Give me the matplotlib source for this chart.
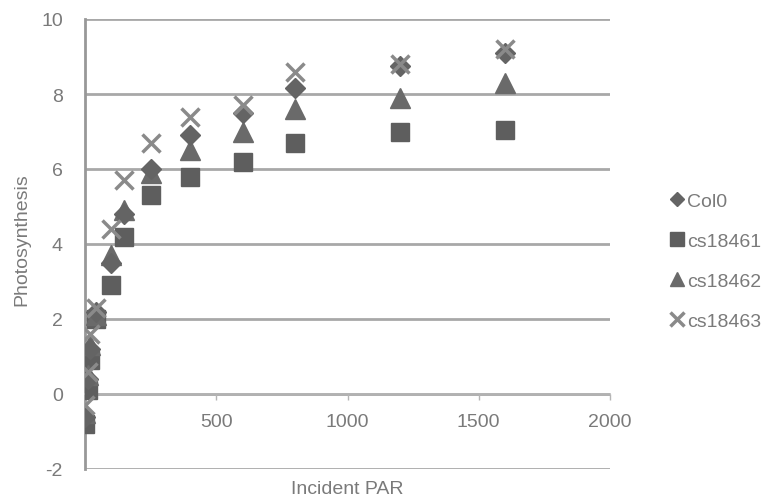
import matplotlib
matplotlib.use("Agg")
import matplotlib.pyplot as plt

# Photosynthesis light-response data for four Arabidopsis lines
par = [0, 10, 20, 40, 100, 150, 250, 400, 600, 800, 1200, 1600]
col0 = [-0.6, 0.4, 1.2, 2.2, 3.5, 4.8, 6.0, 6.9, 7.5, 8.15, 8.75, 9.1]
cs18461 = [-0.8, 0.1, 0.9, 2.0, 2.9, 4.2, 5.3, 5.8, 6.2, 6.7, 7.0, 7.05]
cs18462 = [-0.5, 0.5, 1.3, 2.1, 3.7, 4.9, 5.9, 6.5, 7.0, 7.6, 7.9, 8.3]
cs18463 = [-0.3, 0.6, 1.6, 2.3, 4.4, 5.7, 6.7, 7.4, 7.7, 8.6, 8.8, 9.2]

series_labels = ["Col0", "cs18461", "cs18462", "cs18463"]
x_ticks = [500, 1000, 1500, 2000]
y_ticks = [-2, 0, 2, 4, 6, 8, 10]

plt.rcParams["font.family"] = ["Liberation Sans", "DejaVu Sans"]
plt.rcParams["axes.unicode_minus"] = False
text_color = "#7a7a7a"

fig = plt.figure(figsize=(7.79, 5.02), dpi=100)
ax = fig.add_axes([85 / 779, 1 - 470 / 502, 525 / 779, 450 / 502])

ax.plot(par, cs18461, linestyle="none", marker="s", ms=13, color="#5e5e5e",
        label=series_labels[1], zorder=3)
ax.plot(par, cs18462, linestyle="none", marker="^", ms=14, color="#6a6a6a",
        label=series_labels[2], zorder=3)
ax.plot(par, col0, linestyle="none", marker="D", ms=10, color="#646464",
        label=series_labels[0], zorder=4)
ax.plot(par, cs18463, linestyle="none", marker="x", ms=13, mew=2.5,
        color="#8a8a8a", label=series_labels[3], zorder=4)

ax.set_xlim(0, 2000)
ax.set_ylim(-2, 10)
ax.set_yticks(y_ticks)
ax.set_xticks(x_ticks)
ax.set_xticklabels([str(v) for v in x_ticks])

for y in y_ticks:
    ax.axhline(y, color="#a8a8a8", lw=2.0, zorder=1)

for side in ("top", "right"):
    ax.spines[side].set_visible(False)
ax.spines["bottom"].set_position(("data", 0))
ax.spines["bottom"].set_color("#b5b5b5")
ax.spines["bottom"].set_linewidth(1.2)
ax.spines["left"].set_color("#989898")
ax.spines["left"].set_linewidth(2.0)

ax.tick_params(axis="y", length=0, pad=16, labelsize=14, labelcolor=text_color)
ax.tick_params(axis="x", direction="out", length=4, width=1, color="#b5b5b5",
               pad=10, labelsize=14, labelcolor=text_color)

fig.text(22 / 779, 1 - 240 / 502, "Photosynthesis", rotation=90, ha="center",
         va="center", fontsize=14, color=text_color)
fig.text(347 / 779, 1 - 490 / 502, "Incident PAR", ha="center", va="center",
         fontsize=14, color=text_color)

handles, labels = ax.get_legend_handles_labels()
order = [labels.index(l) for l in series_labels]
leg = ax.legend([handles[i] for i in order], [labels[i] for i in order],
                loc="center left", bbox_to_anchor=(662 / 779, 1 - 262 / 502),
                bbox_transform=fig.transFigure, frameon=False, fontsize=14,
                labelcolor=text_color, handlelength=0.7, handletextpad=0.2,
                labelspacing=1.15, markerscale=0.75, borderaxespad=0)

fig.savefig("out.png", dpi=100)
